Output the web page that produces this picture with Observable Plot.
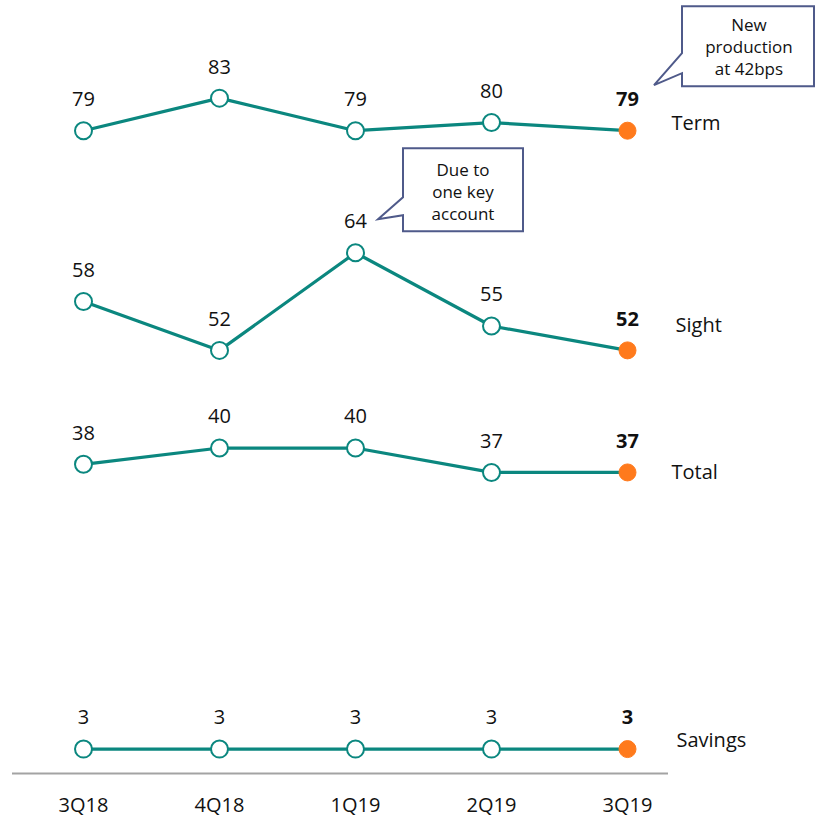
<!DOCTYPE html>
<html>
<head>
<meta charset="utf-8">
<script src="https://cdn.jsdelivr.net/npm/d3@7"></script>
<script src="https://cdn.jsdelivr.net/npm/@observablehq/plot@0.6"></script>
<style>
  html, body { margin: 0; padding: 0; background: #fff; }
  #chart svg { display: block; }
</style>
</head>
<body>
<div id="chart"></div>
<script>
// Quarterly rates per product, in basis points
const quarters = ["3Q18", "4Q18", "1Q19", "2Q19", "3Q19"];
const term = [79, 83, 79, 80, 79];
const sight = [58, 52, 64, 55, 52];
const total = [38, 40, 40, 37, 37];
const savings = [3, 3, 3, 3, 3];
const seriesNames = ["Term", "Sight", "Total", "Savings"];

const teal = "#0b877f";
const orange = "#ff7a1c";
const calloutStroke = "#4f5a8a";
const font = "'Open Sans', 'Noto Sans', sans-serif";

const seriesValues = [term, sight, total, savings];
const rows = seriesNames.flatMap((name, s) =>
  quarters.map((q, i) => ({series: name, quarter: q, value: seriesValues[s][i], last: i === quarters.length - 1}))
);
const history = rows.filter(d => !d.last);
const latest = rows.filter(d => d.last);

// position nudges for each series name beside the latest point
const nameOffset = {Term: [44, -7], Sight: [48, -25], Total: [44, 0], Savings: [49, -8]};

const chart = Plot.plot({
  width: 817,
  height: 819,
  marginLeft: 81,
  marginRight: 189,
  marginTop: 0,
  marginBottom: 46,
  x: {type: "point", domain: quarters, padding: 0, axis: null},
  y: {domain: [0, 95], axis: null},
  style: {fontFamily: font, fontSize: "20px", color: "#111", background: "#fff", overflow: "visible"},
  marks: [
    Plot.ruleY([0], {stroke: "#a3a3a3", strokeWidth: 2, insetLeft: -69, insetRight: -40}),
    Plot.axisX({tickSize: 0, tickPadding: 24, fontSize: 20, label: null}),
    Plot.line(rows, {x: "quarter", y: "value", z: "series", stroke: teal, strokeWidth: 3.2}),
    Plot.dot(history, {x: "quarter", y: "value", r: 8.5, fill: "#fff", stroke: teal, strokeWidth: 2}),
    Plot.dot(latest, {x: "quarter", y: "value", r: 8.5, fill: orange, stroke: orange, strokeWidth: 1}),
    Plot.text(history, {x: "quarter", y: "value", text: d => String(d.value), dy: -31, fontSize: 20}),
    Plot.text(latest, {x: "quarter", y: "value", text: d => String(d.value), dy: -31, fontSize: 20, fontWeight: "bold"}),
    ...seriesNames.map(name =>
      Plot.text(latest.filter(d => d.series === name), {
        x: "quarter", y: "value", text: "series",
        dx: nameOffset[name][0], dy: nameOffset[name][1], textAnchor: "start", fontSize: 20
      })
    )
  ]
});

document.getElementById("chart").append(chart);

// Speech-bubble notes anchored to data points
const xs = chart.scale("x");
const ys = chart.scale("y");
const svg = d3.select(chart);

function callout(quarter, value, box, tail, lines, textCenterX, firstLineDy) {
  const ax = xs.apply(quarter);
  const ay = ys.apply(value);
  const L = ax + box.left, R = ax + box.right, T = ay + box.top, B = ay + box.bottom;
  const path = [
    [L, T], [R, T], [R, B], [L, B],
    [L, ay + tail.lower], [ax + tail.tipX, ay + tail.tipY], [L, ay + tail.upper]
  ];
  svg.append("path")
    .attr("d", "M" + path.map(p => p.join(",")).join("L") + "Z")
    .attr("fill", "#fff")
    .attr("stroke", calloutStroke)
    .attr("stroke-width", 2)
    .attr("stroke-linejoin", "miter");
  const t = svg.append("text")
    .attr("font-family", font)
    .attr("font-size", 17)
    .attr("fill", "#111")
    .attr("text-anchor", "middle");
  lines.forEach((line, i) => {
    t.append("tspan")
      .attr("x", ax + textCenterX)
      .attr("y", ay + firstLineDy + i * 22)
      .attr("dy", "0.35em")
      .text(line);
  });
}

callout("3Q19", 79,
  {left: 55, right: 187, top: -124, bottom: -44},
  {upper: -77, lower: -57, tipX: 27, tipY: -45},
  ["New", "production", "at 42bps"], 122, -105);

callout("1Q19", 64,
  {left: 48, right: 168, top: -104, bottom: -21},
  {upper: -55, lower: -37, tipX: 23, tipY: -33},
  ["Due to", "one key", "account"], 108, -82);
</script>
</body>
</html>
